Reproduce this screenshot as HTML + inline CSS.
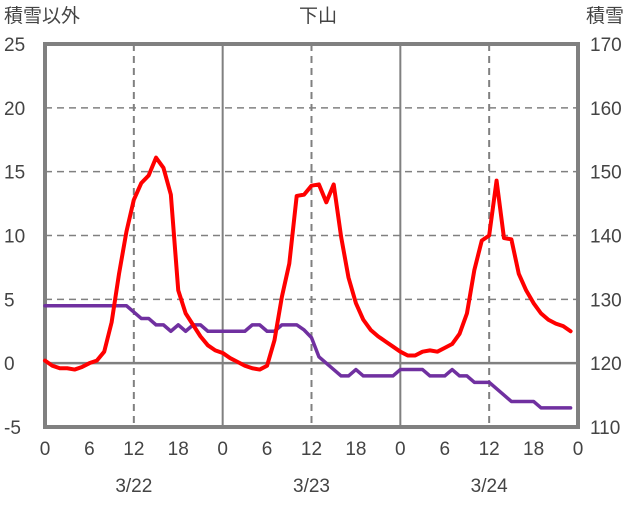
<!DOCTYPE html>
<html><head><meta charset="utf-8"><style>
body{margin:0;background:#fff}
svg text{font-family:"Liberation Sans","Noto Sans CJK JP",sans-serif;fill:#444;font-size:19px}
</style></head><body>
<svg width="636" height="501" viewBox="0 0 636 501">
<g id="grid"></g>
<g id="series"></g>
<g id="labels"></g>
</svg>
<script>
const hours=[];for(let i=0;i<72;i++)hours.push(i);
const otherValues=[0.2,-0.2,-0.4,-0.4,-0.5,-0.3,0,0.2,0.9,3.2,7,10.3,12.8,14.1,14.7,16.1,15.3,13.2,5.7,3.9,3.0,2.1,1.4,1.0,0.8,0.4,0.1,-0.2,-0.4,-0.5,-0.2,1.8,5.2,7.8,13.1,13.2,13.9,14.0,12.6,14.0,9.9,6.7,4.7,3.4,2.6,2.1,1.7,1.3,0.9,0.6,0.6,0.9,1.0,0.9,1.2,1.5,2.3,3.9,7.3,9.6,10.0,14.3,9.8,9.7,7.0,5.7,4.7,3.9,3.4,3.1,2.9,2.5];
const snowValues=[129,129,129,129,129,129,129,129,129,129,129,129,128,127,127,126,126,125,126,125,126,126,125,125,125,125,125,125,126,126,125,125,126,126,126,125.2,124,121,120,119,118,118,119,118,118,118,118,118,119,119,119,119,118,118,118,119,118,118,117,117,117,116,115,114,114,114,114,113,113,113,113,113];
const leftTicks=[-5,0,5,10,15,20,25];
const rightTicks=[110,120,130,140,150,160,170];
const xTickLabels=[0,6,12,18,0,6,12,18,0,6,12,18,0];
const dateLabels=["3/22","3/23","3/24"];
const L=45,R=578,T=44,B=427;
const xs=h=>L+(R-L)*h/72;
const yl=v=>B-(B-T)*(v+5)/30;
const yr=v=>B-(B-T)*(v-110)/60;
const NS='http://www.w3.org/2000/svg';
function mk(tag,attrs,parent,txt){const e=document.createElementNS(NS,tag);for(const k in attrs)e.setAttribute(k,attrs[k]);if(txt!==undefined)e.textContent=txt;document.getElementById(parent).appendChild(e);return e;}
// horizontal grid
leftTicks.forEach(v=>{if(v===-5||v===25)return;
 const e=mk('line',{x1:L,x2:R,y1:yl(v),y2:yl(v),stroke:'#808080','stroke-width':v===0?2.5:1.5,'stroke-dasharray':v===0?'':'7,5'},'grid');
 
 });
// vertical lines
[12,24,36,48,60].forEach(h=>{const solid=h%24===0;
 const e=mk('line',{x1:xs(h),x2:xs(h),y1:T,y2:B,stroke:'#808080','stroke-width':solid?2:2,'stroke-dasharray':solid?'':'7,5'},'grid');
 
 });
const fr=mk('rect',{x:L,y:T,width:R-L,height:B-T,fill:'none',stroke:'#808080','stroke-width':4},'grid');


// series
const pr=mk('polyline',{points:hours.map(h=>xs(h)+','+yr(snowValues[h])).join(' '),fill:'none',stroke:'#7030A0','stroke-width':3.5,'stroke-linejoin':'round','stroke-linecap':'round'},'series');


const rd=mk('polyline',{points:hours.map(h=>xs(h)+','+yl(otherValues[h])).join(' '),fill:'none',stroke:'#FF0000','stroke-width':4,'stroke-linejoin':'round','stroke-linecap':'round'},'series');


// labels
leftTicks.forEach(v=>{const e=mk('text',{x:4,y:yl(v)+7},'labels',String(v));
 
 });
rightTicks.forEach(v=>{const e=mk('text',{x:590,y:yr(v)+7},'labels',String(v));
 
 });
xTickLabels.forEach((v,i)=>{const e=mk('text',{x:xs(i*6),y:455,'text-anchor':'middle'},'labels',String(v));
 
 });
dateLabels.forEach((v,i)=>{const e=mk('text',{x:xs(12+24*i),y:492,'text-anchor':'middle'},'labels',v);
 
 });
const t1=mk('text',{x:4,y:22},'labels','積雪以外');


const t2=mk('text',{x:318,y:22,'text-anchor':'middle'},'labels','下山');


const t3=mk('text',{x:586,y:22},'labels','積雪');


</script>
</body></html>
